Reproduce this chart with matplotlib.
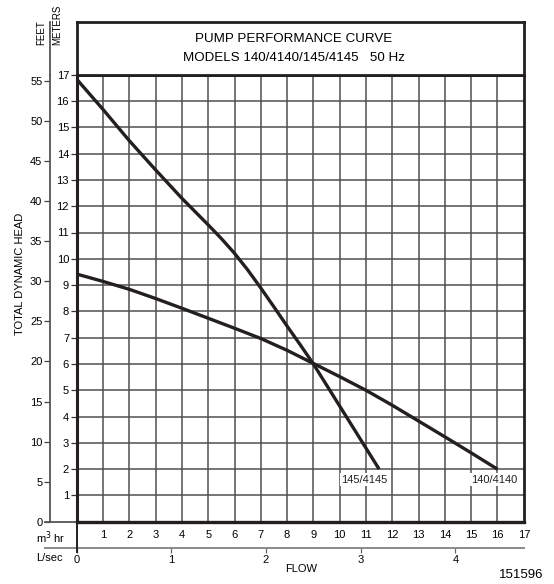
import matplotlib
matplotlib.use("Agg")
import matplotlib.pyplot as plt
import numpy as np

plt.rcParams["font.family"] = ["Liberation Sans", "DejaVu Sans"]

# data (flow in m3/hr, head in meters)
flow_145 = [0, 1, 2, 3, 4, 5, 5.5, 6, 6.5, 7, 7.5, 8, 8.5, 9, 10, 11, 11.5]
head_145 = [16.83, 15.68, 14.49, 13.38, 12.30, 11.29, 10.77, 10.21, 9.58, 8.89, 8.17,
            7.44, 6.73, 6.0, 4.4, 2.8, 2.0]
flow_140 = [0, 1, 2, 3, 4, 5, 6, 7, 8, 9, 10, 11, 12, 13, 14, 15, 16]
head_140 = [9.42, 9.14, 8.84, 8.49, 8.12, 7.74, 7.36, 6.97, 6.52, 6.02, 5.52, 5.0,
            4.43, 3.83, 3.23, 2.62, 2.0]
labels = ["145/4145", "140/4140"]
label_pos = [(10.94, 1.6), (15.86, 1.6)]

meter_ticks = list(range(1, 18))
flow_ticks = list(range(1, 18))
feet_ticks = list(range(0, 56, 5))
lsec_ticks = [0, 1, 2, 3, 4]

title1 = "PUMP PERFORMANCE CURVE"
title2 = "MODELS 140/4140/145/4145   50 Hz"

W, H = 554, 584
fig = plt.figure(figsize=(W / 100, H / 100), dpi=100)

# pixel geometry of the grid
x0, x1 = 76.7, 523.8
yb, yt = 521.8, 74.7
ax = fig.add_axes([x0 / W, 1 - yb / H, (x1 - x0) / W, (yb - yt) / H])
ax.set_xlim(0, 17)
ax.set_ylim(0, 17)

ink = "#231f20"
for v in range(1, 17):
    ax.axvline(v, color="#4f4f4f", lw=1.1, zorder=1)
    ax.axhline(v, color="#4f4f4f", lw=1.1, zorder=1)

ax.plot(flow_145, head_145, color=ink, lw=2.4, solid_capstyle="butt",
        solid_joinstyle="round", zorder=3)
ax.plot(flow_140, head_140, color=ink, lw=2.4, solid_capstyle="butt",
        solid_joinstyle="round", zorder=3)
for lab, (lx, ly) in zip(labels, label_pos):
    ax.text(lx, ly, lab, ha="center", va="center", fontsize=8, color=ink, zorder=4,
            bbox=dict(facecolor="white", edgecolor="none", pad=1.0))

for s in ax.spines.values():
    s.set_color(ink)
ax.spines["left"].set_linewidth(2.2)
ax.spines["bottom"].set_linewidth(2.4)
ax.spines["top"].set_linewidth(2.0)
ax.spines["right"].set_linewidth(2.0)

ax.set_yticks(meter_ticks)
ax.set_yticklabels([str(t) for t in meter_ticks], fontsize=8)
ax.tick_params(axis="y", direction="out", length=4.5, width=0.9, pad=1, color="#333")
ax.set_xticks(flow_ticks)
ax.set_xticklabels([str(t) for t in flow_ticks], fontsize=8)
ax.tick_params(axis="x", length=0, pad=6)

# feet axis
feet = ax.secondary_yaxis((50 - x0) / (x1 - x0),
                          functions=(lambda m: m / 0.3048, lambda f: f * 0.3048))
feet.set_yticks(feet_ticks)
feet.set_yticklabels([str(t) for t in feet_ticks], fontsize=8)
feet.tick_params(direction="out", length=4, width=0.9, pad=1.5, color="#444")
feet.spines["left"].set_color("#555")
feet.spines["left"].set_linewidth(1.3)

# L/sec axis
lsec = ax.secondary_xaxis((yb - 547.7) / (yb - yt),
                          functions=(lambda q: q / 3.6, lambda l: l * 3.6))
lsec.set_xticks(lsec_ticks)
lsec.set_xticklabels([str(t) for t in lsec_ticks], fontsize=8)
lsec.tick_params(direction="out", length=3.5, width=0.9, pad=2, color="#666")
lsec.spines["bottom"].set_color("#8a8a8a")
lsec.spines["bottom"].set_linewidth(1.4)

# extra rule lines in axes coordinates
fx = (50 - x0) / (x1 - x0)
lx45 = (45 - x0) / (x1 - x0)
ly_ls = (yb - 547.7) / (yb - yt)
ax.plot([fx, fx], [1, (yb - 22) / (yb - yt)], transform=ax.transAxes,
        color="#555", lw=1.3, clip_on=False)
ax.plot([lx45, 0], [0, 0], transform=ax.transAxes, color="#555", lw=1.3, clip_on=False)
ax.plot([lx45, 0], [ly_ls, ly_ls], transform=ax.transAxes, color="#8a8a8a", lw=1.4,
        clip_on=False)
ax.plot([0, 0], [0, (yb - 552) / (yb - yt)], transform=ax.transAxes, color=ink,
        lw=1.4, clip_on=False)

# axis texts
ax.text((41 - x0) / (x1 - x0), (yb - 45) / (yb - yt), "FEET", rotation=90,
        ha="center", va="bottom", fontsize=7, transform=ax.transAxes)
ax.text((57.5 - x0) / (x1 - x0), (yb - 45) / (yb - yt), "METERS", rotation=90,
        ha="center", va="bottom", fontsize=7, transform=ax.transAxes)
ax.text((20 - x0) / (x1 - x0), (yb - 274) / (yb - yt), "TOTAL DYNAMIC HEAD",
        rotation=90, ha="center", va="center", fontsize=8, transform=ax.transAxes)
ax.text((36 - x0) / (x1 - x0), (yb - 538) / (yb - yt), "m$^3$ hr", ha="left",
        va="center", fontsize=8, transform=ax.transAxes)
ax.text((36 - x0) / (x1 - x0), (yb - 557.7) / (yb - yt), "L/sec", ha="left",
        va="center", fontsize=8, transform=ax.transAxes)
ax.text((301 - x0) / (x1 - x0), (yb - 569.5) / (yb - yt), "FLOW", ha="center",
        va="center", fontsize=8, transform=ax.transAxes)
ax.text((521 - x0) / (x1 - x0), (yb - 574.5) / (yb - yt), "151596", ha="center",
        va="center", fontsize=9.5, transform=ax.transAxes)

# title box
tax = fig.add_axes([x0 / W, 1 - yt / H, (x1 - x0) / W, (yt - 22) / H])
tax.set_xticks([])
tax.set_yticks([])
for s in tax.spines.values():
    s.set_color(ink)
    s.set_linewidth(2.0)
tax.text(0.485, 0.68, title1, ha="center", va="center", fontsize=9.6, transform=tax.transAxes)
tax.text(0.485, 0.31, title2, ha="center", va="center", fontsize=9.6, transform=tax.transAxes)

fig.savefig("out.png", dpi=100)
